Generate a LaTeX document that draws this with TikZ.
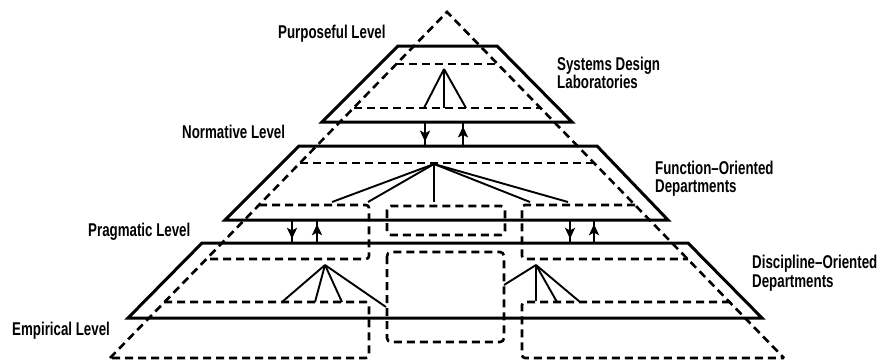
\documentclass[tikz,border=0pt]{standalone}
\usepackage{fontspec}
\setmainfont{Liberation Sans}[FakeStretch=0.72]
\usetikzlibrary{arrows.meta,calc}

\begin{document}
\begin{tikzpicture}[x=1pt,y=-1pt,
  level/.style={line width=3pt, line join=miter},
  hidden/.style={line width=2.6pt, dash pattern=on 8pt off 5pt},
  branch/.style={line width=1.9pt},
  stem/.style={line width=2.8pt},
  flow/.style={line width=2.8pt, -{Stealth[length=11pt,width=10pt,inset=2.5pt]}},
  lbl/.style={font=\fontsize{18.5}{20}\selectfont\bfseries, inner sep=0pt, align=left}
]
\useasboundingbox (0,0) rectangle (885,360);

% ---- hidden dashed structure -------------------------------------------
\coordinate (apex)  at (447,12);
\coordinate (baseL) at (110,358);
\coordinate (baseR) at (784,358);
\draw[hidden] (baseL) -- (apex) -- (baseR);

% horizontal planes inside each level
\draw[hidden] (396,64) -- (498,64);
\draw[hidden] (354,108) -- (541,108);
\draw[hidden] (300,163) -- (594,163);

% left column
\draw[hidden, rounded corners=3pt] (259,205) -- (369,205) -- (369,259) -- (206,259);
\draw[hidden, rounded corners=3pt] (164,302) -- (369,302) -- (369,358) -- (baseL);
% right column
\draw[hidden, rounded corners=3pt] (635,205) -- (522,205) -- (522,259) -- (688,259);
\draw[hidden, rounded corners=3pt] (730,302) -- (522,302) -- (522,358) -- (baseR);
% middle blocks
\draw[hidden, rounded corners=4pt] (387,206) rectangle (505,235);
\draw[hidden, rounded corners=4pt] (387,252) rectangle (504,342);

% ---- levels (solid trapezoids) -----------------------------------------
\draw[level] (398,46) -- (497,46) -- (572,122) -- (322,122) -- cycle;
\draw[level] (299,146) -- (597,146) -- (668,220) -- (225,220) -- cycle;
\draw[level] (202,243) -- (688,243) -- (762,318) -- (128,318) -- cycle;

% ---- branches ----------------------------------------------------------
\coordinate (r1) at (444,69);
\foreach \x/\y [count=\i] in {424/108, 444/108, 466/108}
  {\coordinate (r1l\i) at (\x,\y); \draw[branch] (r1) -- (r1l\i);}
\coordinate (r2) at (434,164);
\foreach \x/\y [count=\i] in {332/202, 368/202, 434/202, 530/202, 568/202}
  {\coordinate (r2l\i) at (\x,\y); \draw[branch] (r2) -- (r2l\i);}
\coordinate (r3) at (325,265);
\foreach \x/\y [count=\i] in {282/302, 315/302, 342/302, 386/307}
  {\coordinate (r3l\i) at (\x,\y); \draw[branch] (r3) -- (r3l\i);}
\coordinate (r4) at (536,265);
\foreach \x/\y [count=\i] in {504/285, 536/301, 557/302, 580/302}
  {\coordinate (r4l\i) at (\x,\y); \draw[branch] (r4) -- (r4l\i);}

% ---- exchange arrows between levels ------------------------------------
\coordinate (d1t) at (425,122); \coordinate (d1b) at (425,146);
\coordinate (u1b) at (463,146); \coordinate (u1t) at (463,122);
\coordinate (d2t) at (292,220); \coordinate (d2b) at (292,243);
\coordinate (u2b) at (317,243); \coordinate (u2t) at (317,220);
\coordinate (d3t) at (570,220); \coordinate (d3b) at (570,243);
\coordinate (u3b) at (594,243); \coordinate (u3t) at (594,220);
\foreach \a/\b in {d1t/d1b, u1b/u1t, d2t/d2b, u2b/u2t, d3t/d3b, u3b/u3t}
  {\draw[stem] (\a) -- (\b);
   \draw[flow] (\a) -- ($(\a)!0.82!(\b)$);}

% ---- labels ------------------------------------------------------------
\node[lbl, anchor=base west] (purp) at (278,38) {Purposeful Level};
\node[lbl, anchor=base west] (norm) at (182,138) {Normative Level};
\node[lbl, anchor=base west] (prag) at (88,236) {Pragmatic Level};
\node[lbl, anchor=base west] (emp)  at (12,335) {Empirical Level};
\node[lbl, anchor=base west] (sdl1) at (557,70) {Systems Design};
\node[lbl, anchor=base west] (sdl2) at (557,88) {Laboratories};
\node[lbl, anchor=base west] (fod1) at (655,174) {Function–Oriented};
\node[lbl, anchor=base west] (fod2) at (655,192) {Departments};
\node[lbl, anchor=base west] (dod1) at (752,268) {Discipline–Oriented};
\node[lbl, anchor=base west] (dod2) at (752,287) {Departments};
\end{tikzpicture}
\end{document}
